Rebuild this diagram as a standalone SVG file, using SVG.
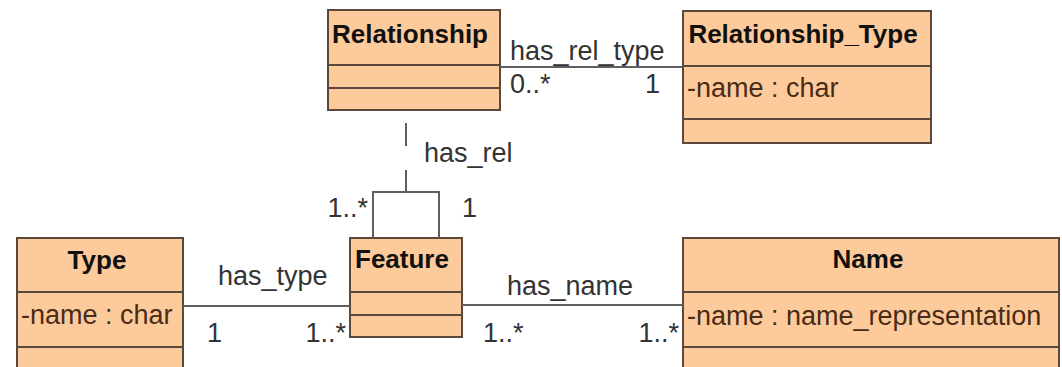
<svg xmlns="http://www.w3.org/2000/svg" width="1062" height="367" viewBox="0 0 1062 367">
<style>
.box{fill:#fdcb9b;stroke:#5b4a3c;stroke-width:2}
.div{stroke:#5b4a3c;stroke-width:2}
.title{font-family:"Liberation Sans",Arial,sans-serif;font-size:26px;font-weight:bold;fill:#111;text-anchor:middle}
.attr{font-family:"Liberation Sans",Arial,sans-serif;font-size:27px;fill:#4a2c16}
.lbl{font-family:"Liberation Sans",Arial,sans-serif;font-size:27px;fill:#333}
.con{stroke:#5f5f5f;stroke-width:2;fill:none}
</style>
<rect width="1062" height="367" fill="#ffffff"/>
<g id="Relationship">
<rect class="box" x="328" y="10" width="172" height="100"/>
<line class="div" x1="328" y1="65" x2="500" y2="65"/>
<line class="div" x1="328" y1="88" x2="500" y2="88"/>
<text class="title" x="410" y="43">Relationship</text>
</g>
<g id="Relationship_Type">
<rect class="box" x="683" y="11" width="248" height="132"/>
<line class="div" x1="683" y1="66" x2="931" y2="66"/>
<line class="div" x1="683" y1="119" x2="931" y2="119"/>
<text class="title" x="803" y="43">Relationship_Type</text>
<text class="attr" x="687" y="97">-name : char</text>
</g>
<g id="Feature">
<rect class="box" x="350" y="238" width="112" height="99"/>
<line class="div" x1="350" y1="292" x2="462" y2="292"/>
<line class="div" x1="350" y1="315" x2="462" y2="315"/>
<text class="title" x="402" y="268">Feature</text>
</g>
<g id="Type">
<rect class="box" x="17" y="238" width="166" height="140"/>
<line class="div" x1="17" y1="292" x2="183" y2="292"/>
<line class="div" x1="17" y1="347" x2="183" y2="347"/>
<text class="title" x="97" y="269">Type</text>
<text class="attr" x="21" y="324">-name : char</text>
</g>
<g id="Name">
<rect class="box" x="683" y="238" width="376" height="140"/>
<line class="div" x1="683" y1="292" x2="1059" y2="292"/>
<line class="div" x1="683" y1="347" x2="1059" y2="347"/>
<text class="title" x="868" y="268">Name</text>
<text class="attr" x="687" y="325">-name : name_representation</text>
</g>
<g id="connectors">
<line class="con" x1="500" y1="67" x2="683" y2="67"/>
<line class="con" x1="406" y1="123" x2="406" y2="146"/>
<polyline class="con" points="406,170 406,192"/>
<polyline class="con" points="373,238 373,192 439,192 439,238"/>
<line class="con" x1="183" y1="306" x2="350" y2="306"/>
<line class="con" x1="462" y1="305" x2="683" y2="305"/>
<text class="lbl" x="510" y="60">has_rel_type</text>
<text class="lbl" x="510" y="93">0..*</text>
<text class="lbl" x="660" y="93" text-anchor="end">1</text>
<text class="lbl" x="424" y="162">has_rel</text>
<text class="lbl" x="368" y="217" text-anchor="end">1..*</text>
<text class="lbl" x="462" y="217">1</text>
<text class="lbl" x="218" y="285">has_type</text>
<text class="lbl" x="207" y="342">1</text>
<text class="lbl" x="346" y="342" text-anchor="end">1..*</text>
<text class="lbl" x="507" y="295">has_name</text>
<text class="lbl" x="483" y="342">1..*</text>
<text class="lbl" x="679" y="342" text-anchor="end">1..*</text>
</g>
</svg>
